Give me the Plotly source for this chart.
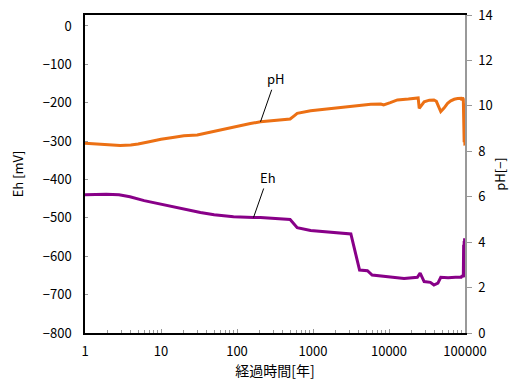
import numpy as np
import plotly.graph_objects as go

# ---- data ----
time_ph = [1, 1.5, 2.2, 2.9, 4, 5, 7, 10, 15, 20, 30, 50, 70, 100, 150, 204, 300, 500, 560,
           620, 930, 1500, 2570, 4000, 5760, 7800, 8500, 10400, 12900, 18000, 23600, 24200,
           25000, 29000, 34000, 39000, 42000, 44000, 48000, 53000, 59000, 65000, 72000,
           80000, 89000, 91000, 93000, 95000, 96000, 96800, 97500, 98200, 98800, 99300,
           99700, 100000]
ph_vals = [8.35, 8.30, 8.26, 8.25, 8.28, 8.32, 8.42, 8.53, 8.62, 8.68, 8.72, 8.88, 9.00,
           9.11, 9.22, 9.30, 9.36, 9.42, 9.55, 9.67, 9.78, 9.86, 9.94, 10.01, 10.07, 10.08,
           10.04, 10.14, 10.26, 10.30, 10.33, 10.35, 9.89, 10.18, 10.25, 10.26, 10.20,
           10.05, 9.75, 9.90, 10.11, 10.22, 10.29, 10.32, 10.33, 10.25, 10.36, 10.30,
           9.00, 10.20, 8.40, 10.10, 8.30, 10.00, 8.25, 9.60]

time_eh = [1, 1.9, 2.8, 3.9, 6, 9.8, 15, 20, 33, 50, 90, 165, 204, 500, 560, 620, 930,
           1500, 3150, 4100, 5200, 6000, 8000, 11700, 15800, 23600, 25700, 29000, 35000,
           39000, 42000, 44000, 48000, 60000, 75000, 89000, 92000, 95000, 96000, 96800,
           97500, 98200, 98800, 99300, 99700, 100000]
eh_vals = [-440, -438.5, -440, -445, -455, -464, -472, -477, -486, -492, -497, -499, -499,
           -504, -516, -525.5, -533, -537, -542, -636, -637.5, -649, -652, -655, -658,
           -655, -644, -666, -668, -675, -672, -670, -655, -656, -655, -655, -650, -655,
           -570, -655, -560, -650, -553, -640, -575, -650]

x_ticks = [1, 10, 100, 1000, 10000, 100000]
x_ticklabels = ["1", "10", "100", "1000", "10000", "100000"]
eh_ticks = [0, -100, -200, -300, -400, -500, -600, -700, -800]
eh_ticklabels = ["0", "\u2212100", "\u2212200", "\u2212300", "\u2212400", "\u2212500",
                 "\u2212600", "\u2212700", "\u2212800"]
ph_ticks = [0, 2, 4, 6, 8, 10, 12, 14]

ph_label_idx = 15   # point at 204 years
eh_label_idx = 11   # point at 165 years

FONT = "Noto Sans CJK JP"
ORANGE = "#EC7014"
PURPLE = "#880088"

fig = go.Figure()
fig.add_trace(go.Scatter(x=time_eh, y=eh_vals, mode="lines",
                         line=dict(color=PURPLE, width=3), yaxis="y", showlegend=False))
fig.add_trace(go.Scatter(x=time_ph, y=ph_vals, mode="lines",
                         line=dict(color=ORANGE, width=3), yaxis="y2", showlegend=False))

fig.add_annotation(x=np.log10(time_ph[ph_label_idx]), y=ph_vals[ph_label_idx],
                   xref="x", yref="y2", text="pH", showarrow=True, arrowhead=0,
                   arrowwidth=1, arrowcolor="black", ax=15, ay=-43,
                   font=dict(family=FONT, size=13, color="black"))
fig.add_annotation(x=np.log10(time_eh[eh_label_idx]), y=eh_vals[eh_label_idx],
                   xref="x", yref="y", text="Eh", showarrow=True, arrowhead=0,
                   arrowwidth=1, arrowcolor="black", ax=14, ay=-40,
                   font=dict(family=FONT, size=13, color="black"))

# page body has an 8px default margin, so the figure is sized/offset to compensate
fig.update_layout(
    width=511, height=375,
    margin=dict(l=77, r=54, t=7, b=50, autoexpand=False),
    paper_bgcolor="white", plot_bgcolor="white",
    font=dict(family=FONT, size=13, color="black"),
    xaxis=dict(type="log", range=[0, 5], tickvals=x_ticks, ticktext=x_ticklabels,
               automargin=False, ticklabeloverflow="allow",
               showgrid=False, zeroline=False, showline=True, linecolor="black",
               linewidth=1.5, mirror=True, ticks="inside", ticklen=4, tickcolor="#999",
               ticklabelstandoff=6,
               minor=dict(ticks="inside", ticklen=3, tickcolor="#999", dtick="D1",
                          showgrid=False),
               title=dict(text="経過時間[年]", font=dict(size=14, family=FONT), standoff=0)),
    yaxis=dict(range=[-800, 28.6], tickvals=eh_ticks, ticktext=eh_ticklabels,
               automargin=False, ticklabeloverflow="allow",
               showgrid=False, zeroline=False, showline=True, linecolor="black",
               linewidth=1.5, ticks="inside", ticklen=3, tickcolor="#999",
               ticklabelstandoff=9,
               title=dict(text="Eh [mV]", font=dict(size=13, family=FONT), standoff=24)),
    yaxis2=dict(range=[0, 14], tickvals=ph_ticks, overlaying="y", side="right",
                automargin=False, ticklabeloverflow="allow",
                showgrid=False, zeroline=False, showline=True, linecolor="#999",
                linewidth=1.5, ticks="outside", ticklen=5, tickcolor="#999",
                ticklabelstandoff=4,
                title=dict(text="pH[\u2212]", font=dict(size=13, family=FONT), standoff=4)),
)

fig.write_html("out.html")
